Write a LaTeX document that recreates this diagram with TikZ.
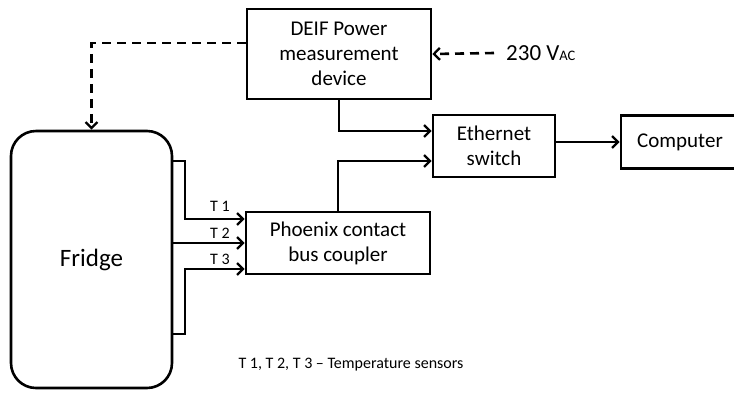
\documentclass[tikz,border=0pt]{standalone}
\usepackage{fontspec}
\setmainfont{Carlito}
\usetikzlibrary{arrows.meta,positioning,calc}
\begin{document}
\begin{tikzpicture}[x=1pt,y=-1pt,
  box/.style={draw,line width=2.6pt,minimum width=#1,inner sep=0pt,align=center,font=\fontsize{21}{25}\selectfont},
  conn/.style={line width=2.6pt,-{Straight Barb[length=6pt,width=12pt,line width=2.3pt]}},
  dconn/.style={conn,dash pattern=on 9pt off 6pt},
  lbl/.style={inner sep=0pt,font=\fontsize{16}{16}\selectfont}]
\useasboundingbox (0,0) rectangle (734,392);
\node[box=184pt,minimum height=90pt] (deif) at (339,54) {DEIF Power\\measurement\\device};
\node[box=122pt,minimum height=62pt] (eth) at (494,146) {Ethernet\\switch};
\node[box=118pt,minimum height=53pt] (comp) at (680,142) {Computer};
\node[box=184pt,minimum height=62pt] (phx) at (338,243) {Phoenix contact\\bus coupler};
\node[box=161pt,minimum height=257pt,rounded corners=25pt,font=\fontsize{25}{28}\selectfont] (fridge) at (91.5,259.5) {Fridge};
\node[inner sep=0pt,anchor=west,font=\fontsize{23}{24}\selectfont] (vac) at (506,53) {230 V{\fontsize{14.5}{14}\selectfont AC}};
\node[lbl] (t1) at (220,206) {T 1};
\node[lbl] (t2) at (220,233) {T 2};
\node[lbl] (t3) at (220,259) {T 3};
\node[lbl] (cap) at (351,365) {T 1, T 2, T 3 – Temperature sensors};
\coordinate (b1) at (185,161);
\coordinate (b2) at (185,334);
\draw[dconn] ([yshift=11pt]deif.west) -| (fridge.north);
\draw[dconn] ([xshift=-12pt]vac.west) -- (deif.east);
\draw[conn] (deif.south) |- ([yshift=15pt]eth.west);
\draw[conn] (phx.north) |- ([yshift=-15pt]eth.west);
\draw[conn] (eth.east |- comp.west) -- (comp.west);
\draw[conn] (fridge.east |- b1) -- (b1) |- ([yshift=24pt]phx.west);
\draw[conn] (fridge.east |- phx.west) -- (phx.west);
\draw[conn] (fridge.east |- b2) -- (b2) |- ([yshift=-26pt]phx.west);
\end{tikzpicture}
\end{document}
